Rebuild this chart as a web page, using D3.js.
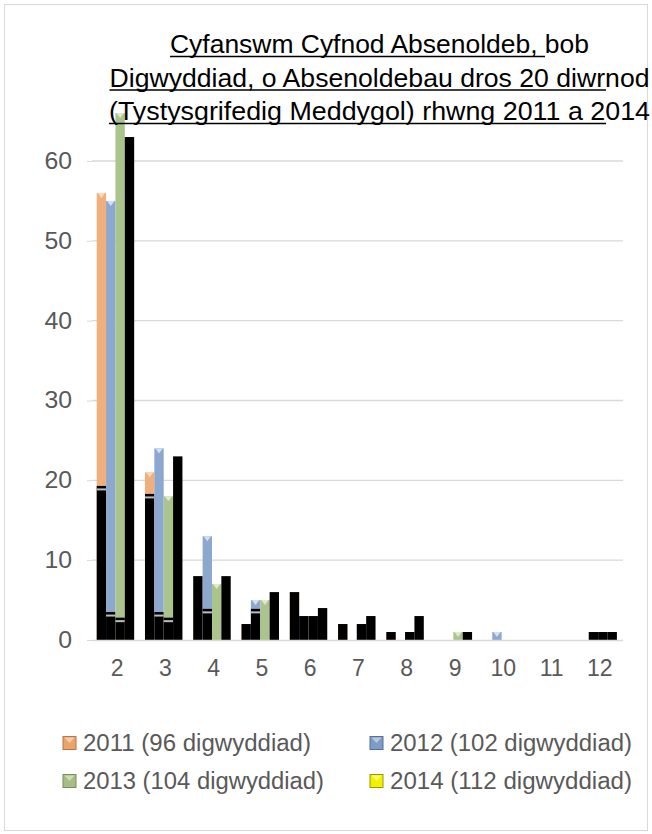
<!DOCTYPE html>
<html><head><meta charset="utf-8">
<script src="https://cdn.jsdelivr.net/npm/d3@7/dist/d3.min.js"></script>
<style>body{margin:0;background:#fff}</style></head>
<body>
<svg id="chart" width="652" height="834"></svg>
<script>
// ---- data ----
const categories = ["2","3","4","5","6","7","8","9","10","11","12"];
const titleLines = [
  "Cyfanswm Cyfnod Absenoldeb, bob",
  "Digwyddiad, o Absenoldebau dros 20 diwrnod",
  "(Tystysgrifedig Meddygol) rhwng 2011 a 2014"
];
const seriesNames = ["2011 (96 digwyddiad)","2012 (102 digwyddiad)","2013 (104 digwyddiad)","2014 (112 digwyddiad)"];
const values2011 = [56,21,8,2,6,2,1,0,0,0,0];
const values2012 = [55,24,13,5,3,0,0,0,1,0,1];
const values2013 = [66,18,7,5,3,2,1,1,0,0,1];
const values2014 = [63,23,8,6,4,3,3,1,0,0,1];
// dark (black) lower portions as rendered in the picture
const dark2011 = [19.3,18.3,8,2,6,2,1,0,0,0,0];
const dark2012 = [3.5,3.5,3.9,3.9,3,0,0,0,0,0,1];
const dark2013 = [2.8,2.8,0,0,3,2,1,0,0,0,1];
const yTicks = [0,10,20,30,40,50,60];

// ---- styles ----
const FONT = "'Liberation Sans', Arial, sans-serif";
const barColors = ["#F0B07E","#8CA8CE","#ABC38C","#000000"];
const capColors = ["#FBD7B8","#D2E0F2","#DDEACB","#000000"];
const legendColors = ["#E9A46C","#7F9CC6","#A6BE86","#F2F200"];
const legendEdge = ["#B7764A","#55709A","#76905A","#9A9A00"];

const svg = d3.select("#chart");
svg.append("rect").attr("x",4.5).attr("y",4.5).attr("width",643).attr("height",826)
  .attr("fill","#fff").attr("stroke","#D9D9D9").attr("stroke-width",1);

const series = [values2011, values2012, values2013, values2014];
const darks = [dark2011, dark2012, dark2013, null];

const x0 = d3.scaleBand().domain(categories).range([91.3, 622.3]).paddingInner(0.224).paddingOuter(0.112);
const x1 = d3.scaleBand().domain(d3.range(4)).range([0, x0.bandwidth()]);
const y = d3.scaleLinear().domain([0,60]).range([640,161]);

// gridlines
svg.append("g").selectAll("line").data(yTicks.filter(d=>d>0)).join("line")
  .attr("x1",92).attr("x2",623).attr("y1",d=>y(d)).attr("y2",d=>y(d))
  .attr("stroke","#D9D9D9").attr("stroke-width",1.3);

// y axis labels via d3 axis
const yAxis = svg.append("g").attr("transform","translate(92,0)")
  .call(d3.axisLeft(y).tickValues(yTicks).tickSize(5).tickPadding(15));
yAxis.select(".domain").remove();
yAxis.selectAll(".tick line").attr("stroke","#D9D9D9");
yAxis.selectAll("text").attr("font-family",FONT).attr("font-size",23).attr("fill","#595959")
  .attr("transform","scale(1.08,1)").attr("dx",1.5);

// bars
const groups = svg.append("g").selectAll("g").data(categories).join("g")
  .attr("transform",d=>`translate(${x0(d)},0)`);
series.forEach((vals, s) => {
  groups.each(function(cat, i){
    const v = vals[i];
    if (!v) return;
    const g = d3.select(this);
    const bx = x1(s), bw = x1.bandwidth();
    g.append("rect").attr("x",bx).attr("y",y(v)).attr("width",bw).attr("height",y(0)-y(v))
      .attr("fill",barColors[s]);
    if (s < 3) {
      g.append("path").attr("d",`M${bx+1},${y(v)}L${bx+bw-1},${y(v)}L${bx+bw/2},${y(v)+5}Z`)
        .attr("fill",capColors[s]);
      const dk = darks[s][i];
      if (dk) {
        g.append("rect").attr("x",bx).attr("y",y(dk)).attr("width",bw).attr("height",y(0)-y(dk))
          .attr("fill","#000");
        if (dk < v - 0.5) {
          g.append("rect").attr("x",bx).attr("y",y(dk)+2.5).attr("width",bw).attr("height",2)
            .attr("fill","#BDBDBD");
        }
      }
    }
  });
});

// baseline
svg.append("line").attr("x1",92).attr("x2",623).attr("y1",y(0)+0.5).attr("y2",y(0)+0.5)
  .attr("stroke","#D9D9D9").attr("stroke-width",1.5);

// x labels
svg.append("g").selectAll("text").data(categories).join("text")
  .attr("x",d=>x0(d)+x0.bandwidth()/2+1.7).attr("y",676)
  .attr("text-anchor","middle").attr("font-family",FONT).attr("font-size",23).attr("fill","#595959")
  .text(d=>d);

// title
const titleEnds = [545, 606, 606];
const titleWidths = [419, 540, 541];
titleLines.forEach((t,i)=>{
  const by = 53 + i*33.5;
  const cx = 379.5;
  svg.append("text").attr("x",cx).attr("y",by).attr("text-anchor","middle")
    .attr("font-family",FONT).attr("font-size",26).attr("fill","#000")
    .attr("textLength",titleWidths[i]).attr("lengthAdjust","spacingAndGlyphs").text(t);
  svg.append("line").attr("x1",cx-titleWidths[i]/2).attr("x2",titleEnds[i])
    .attr("y1",by+3.5).attr("y2",by+3.5).attr("stroke","#000").attr("stroke-width",1.5);
});

// legend
const legendPos = [[63,743],[370,743],[63,781],[370,781]];
const legendWidths = [228, 242, 241, 242];
seriesNames.forEach((n,i)=>{
  const [lx,ly] = legendPos[i];
  const g = svg.append("g");
  g.append("rect").attr("x",lx).attr("y",ly-6.5).attr("width",13).attr("height",13)
    .attr("fill",legendColors[i]).attr("stroke",legendEdge[i]).attr("stroke-width",1);
  g.append("path").attr("d",`M${lx+1.5},${ly-5.5}L${lx+11.5},${ly-5.5}L${lx+6.5},${ly}Z`)
    .attr("fill","#fff").attr("opacity",0.45);
  g.append("text").attr("x",lx+20).attr("y",ly+8).attr("font-family",FONT).attr("font-size",23)
    .attr("fill","#595959").attr("textLength",legendWidths[i]).attr("lengthAdjust","spacingAndGlyphs").text(n);
});
</script>
</body></html>
